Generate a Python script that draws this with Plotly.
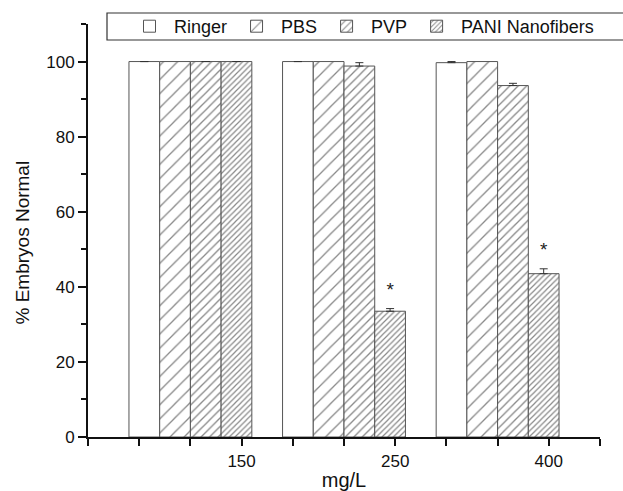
import plotly.graph_objects as go

# ---- data ----
concentrations = ["150", "250", "400"]          # mg/L tick labels
series_names = ["Ringer", "PBS", "PVP", "PANI Nanofibers"]
ringer = [100.0, 100.0, 99.7]
pbs = [100.0, 100.0, 100.0]
pvp = [100.0, 98.8, 93.6]
pani = [100.0, 33.5, 43.5]
ringer_err = [0.0, 0.0, 0.3]
pbs_err = [0.0, 0.0, 0.0]
pvp_err = [0.0, 0.9, 0.6]
pani_err = [0.0, 0.7, 1.3]
significant = [False, True, True]   # asterisk on PANI bar

# ---- layout constants ----
group_pos = [2, 5, 8]        # group centres on the numeric x axis
label_pos = [3, 6, 9]        # where the concentration labels sit
bar_w = 0.6
offsets = [-0.9, -0.3, 0.3, 0.9]
patterns = [
    dict(shape="", fgcolor="#111"),
    dict(shape="/", size=10, solidity=0.13, fgcolor="#111"),
    dict(shape="/", size=6, solidity=0.22, fgcolor="#111"),
    dict(shape="/", size=4, solidity=0.3, fgcolor="#111"),
]
FONT = "Liberation Sans, Arial, sans-serif"
W, H = 623, 491
ML, MR, MT, MB = 88, 23, 24, 54

fig = go.Figure()
values = [ringer, pbs, pvp, pani]
errs = [ringer_err, pbs_err, pvp_err, pani_err]
for i, name in enumerate(series_names):
    show_err = any(e > 0 for e in errs[i])
    fig.add_trace(go.Bar(
        name=name,
        x=[g + offsets[i] for g in group_pos],
        y=values[i],
        width=bar_w,
        marker=dict(color="white", line=dict(color="#555", width=1),
                    pattern=patterns[i]),
        error_y=dict(type="data", array=errs[i], arrayminus=[0] * len(errs[i]),
                     symmetric=False, color="#333", thickness=1, width=4,
                     visible=show_err),
    ))

# asterisks
ax_x = [g + offsets[3] for g, s in zip(group_pos, significant) if s]
ax_y = [v + e + 4.7 for v, e, s in zip(pani, pani_err, significant) if s]
fig.add_trace(go.Scatter(x=ax_x, y=ax_y, mode="text", text=["*"] * len(ax_x),
                         textfont=dict(size=19, color="#222", family=FONT),
                         showlegend=False, hoverinfo="skip"))


def px_x(p):
    return (p - ML) / (W - ML - MR)


def px_y(p):
    return (H - MB - p) / (H - MT - MB)


fig.update_layout(
    width=W, height=H,
    margin=dict(l=ML, r=MR, t=MT, b=MB, autoexpand=False),
    plot_bgcolor="white", paper_bgcolor="white",
    barmode="overlay",
    font=dict(family=FONT, size=17, color="#111"),
    legend=dict(orientation="h", x=px_x(125), xanchor="left",
                y=px_y(8), yanchor="top",
                borderwidth=0, bgcolor="rgba(0,0,0,0)",
                font=dict(size=18), itemwidth=39, tracegroupgap=0),
    shapes=[dict(type="rect", xref="paper", yref="paper",
                 x0=px_x(107), x1=px_x(640), y0=px_y(40), y1=px_y(13),
                 line=dict(color="#333", width=1.2), fillcolor="white",
                 layer="below")],
    annotations=[dict(text="% Embryos Normal", textangle=-90, showarrow=False,
                      xref="paper", yref="paper", x=px_x(22), y=px_y(242.5),
                      xanchor="center", yanchor="middle",
                      font=dict(size=19))],
    xaxis=dict(range=[0, 10], tickmode="array", tickvals=label_pos,
               ticktext=concentrations, ticks="outside", ticklen=7, tickwidth=1.5,
               tickcolor="#111", showline=True, linecolor="#111", linewidth=2,
               showgrid=False, zeroline=False, automargin=False,
               ticklabelstandoff=1,
               minor=dict(tickmode="linear", tick0=0, dtick=1, ticks="outside",
                          ticklen=7, tickwidth=1.5, tickcolor="#111"),
               title=dict(text="mg/L", standoff=7)),
    yaxis=dict(range=[0, 110], tickmode="linear", tick0=0, dtick=20,
               ticks="outside", ticklen=8, tickwidth=1.5, tickcolor="#111",
               showline=True, linecolor="#111", linewidth=2,
               showgrid=False, zeroline=False, automargin=False,
               minor=dict(tickmode="linear", tick0=0, dtick=10, ticks="outside",
                          ticklen=5, tickwidth=1.5, tickcolor="#111")),
)

fig.write_html("out.html")
